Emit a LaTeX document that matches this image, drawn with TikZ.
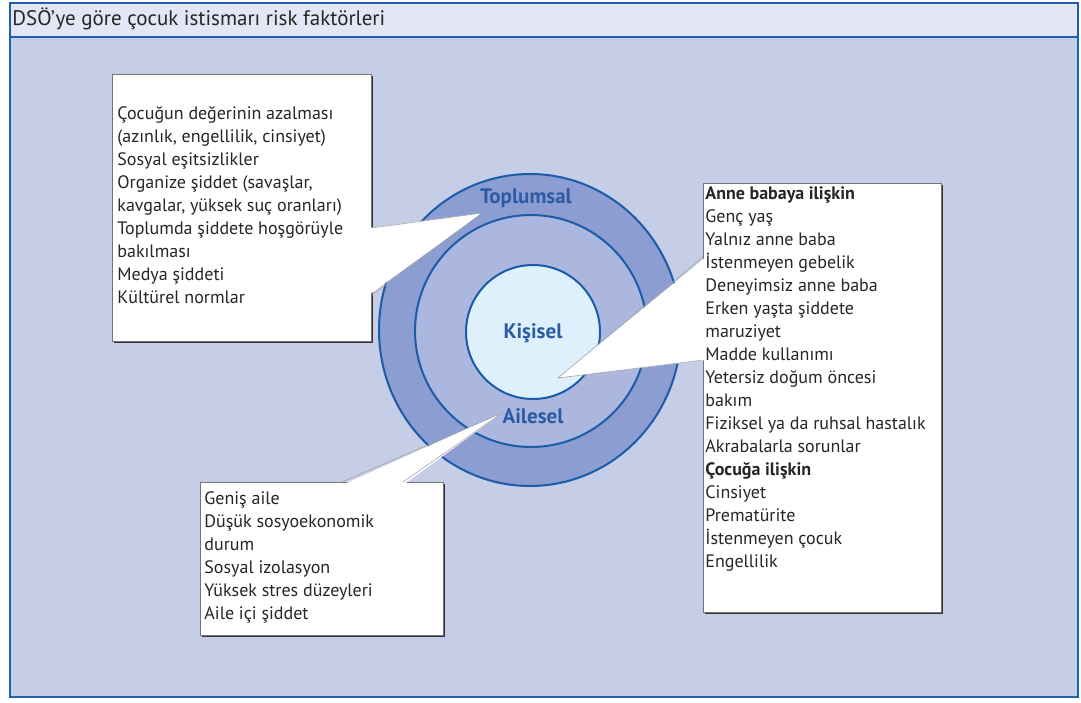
\documentclass[tikz,border=0pt]{standalone}
\usepackage{fontspec}
\setmainfont{PT Sans}
\usetikzlibrary{calc,shadows}
\definecolor{frameblue}{HTML}{1F5FAF}
\definecolor{panelbg}{HTML}{C5CDE7}
\definecolor{titlebg}{HTML}{E3E6F4}
\definecolor{ringouter}{HTML}{8C9DD1}
\definecolor{ringmid}{HTML}{ABB7DE}
\definecolor{ringinner}{HTML}{DEF0FB}
\definecolor{ringline}{HTML}{1B5CA8}
\definecolor{ringtext}{HTML}{2B5BA5}
\tikzset{
  riskbox/.style={draw=black!55, line width=0.4pt, fill=white, inner sep=0pt, anchor=north west,
    drop shadow={shadow xshift=0.9pt, shadow yshift=-0.9pt, fill=black!80, opacity=1}},
  risktext/.style={anchor=north west, align=left, inner sep=0pt, text=black!85,
    font=\fontsize{9}{11.5}\selectfont},
  ringlabel/.style={text=ringtext, font=\bfseries\fontsize{10.5}{12}\selectfont},
  callout/.style={fill=white},
  calloutedge/.style={draw=black!35, line width=0.3pt}
}
\begin{document}
\begin{tikzpicture}[x=0.5pt,y=-0.5pt]
            \useasboundingbox (0,0) rectangle (1081,702);
            \filldraw[fill=panelbg, draw=frameblue, line width=1.4pt] (10,3) rectangle (1078,697);
            \filldraw[fill=titlebg, draw=frameblue, line width=1.4pt] (10,3) rectangle (1078,37);
            \node[anchor=base west, inner sep=0pt, text=black!85, font=\fontsize{10.5}{12}\selectfont] (title) at (12,25) {DSÖ'ye göre çocuk istismarı risk faktörleri};
            \filldraw[fill=ringouter, draw=ringline, line width=1pt] (530,330) ellipse [x radius=75.5pt, y radius=78pt];
            \filldraw[fill=ringmid, draw=ringline, line width=1pt] (531,331) circle [radius=58pt];
            \filldraw[fill=ringinner, draw=ringline, line width=1pt] (533,332) circle [radius=33.5pt];
            \node[ringlabel] (toplumsal) at (526,198) {Toplumsal};
            \node[ringlabel] (kisisel) at (533,333) {Kişisel};
            \node[ringlabel] (ailesel) at (533,416) {Ailesel};
            \node[riskbox, minimum width=129.5pt, minimum height=133.5pt] (lbox) at (112,74) {};
            \node[riskbox, minimum width=119pt, minimum height=214.5pt] (rbox) at (703,183) {};
            \node[riskbox, minimum width=121.5pt, minimum height=76.5pt] (abox) at (200,482) {};
            \coordinate (ltip) at (482,213);
            \coordinate (rtip) at (558,378);
            \coordinate (atip) at (502,413);
            \fill[callout] ($(lbox.north east)+(-3,154)$) -- (ltip) -- ($(lbox.north east)+(-3,221)$) -- cycle;
            \draw[calloutedge] ($(lbox.north east)+(0,154)$) -- (ltip) -- ($(lbox.north east)+(0,221)$);
            \fill[callout] ($(rbox.north west)+(3,74)$) -- (rtip) -- ($(rbox.north west)+(3,177)$) -- cycle;
            \draw[calloutedge] ($(rbox.north west)+(0,74)$) -- (rtip) -- ($(rbox.north west)+(0,177)$);
            \fill[callout] ($(abox.north west)+(142,3)$) -- (atip) -- ($(abox.north west)+(203,3)$) -- cycle;
            \draw[calloutedge] ($(abox.north west)+(142,0)$) -- (atip) -- ($(abox.north west)+(203,0)$);
            \node[risktext] (ltext) at (117,106) {Çocuğun değerinin azalması\\(azınlık, engellilik, cinsiyet)\\Sosyal eşitsizlikler\\Organize şiddet (savaşlar,\\kavgalar, yüksek suç oranları)\\Toplumda şiddete hoşgörüyle\\bakılması\\Medya şiddeti\\Kültürel normlar};
            \node[risktext] (rtext) at (705,186) {\textbf{Anne babaya ilişkin}\\Genç yaş\\Yalnız anne baba\\İstenmeyen gebelik\\Deneyimsiz anne baba\\Erken yaşta şiddete\\maruziyet\\Madde kullanımı\\Yetersiz doğum öncesi\\bakım\\Fiziksel ya da ruhsal hastalık\\Akrabalarla sorunlar\\\textbf{Çocuğa ilişkin}\\Cinsiyet\\Prematürite\\İstenmeyen çocuk\\Engellilik};
            \node[risktext] (atext) at (204,491) {Geniş aile\\Düşük sosyoekonomik\\durum\\Sosyal izolasyon\\Yüksek stres düzeyleri\\Aile içi şiddet};
        \end{tikzpicture}
\end{document}
